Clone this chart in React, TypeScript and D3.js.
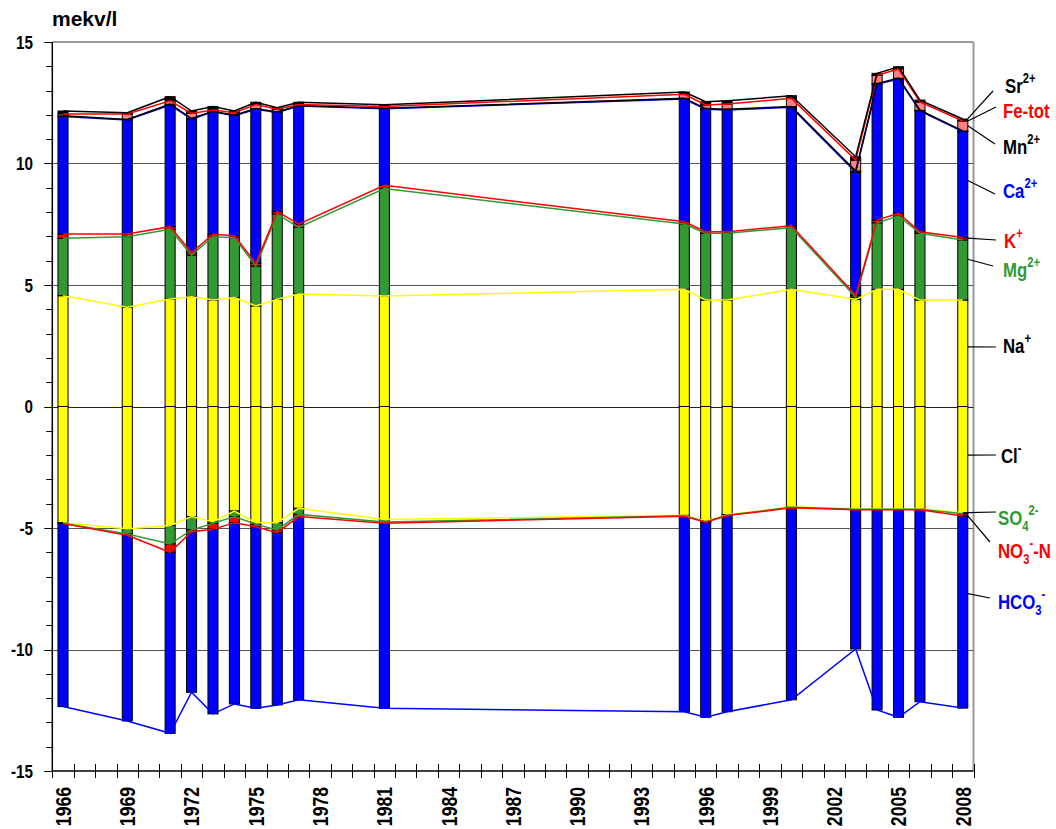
import React, { useEffect, useRef } from "react"
import * as d3 from "d3"

// sample years (one stacked bar each)
const years = [1966, 1969, 1971, 1972, 1973, 1974, 1975, 1976, 1977, 1981, 1995, 1996, 1997, 2000, 2003, 2004, 2005, 2006, 2008]

// cations, mekv/l
const na = [4.56, 4.08, 4.42, 4.52, 4.38, 4.48, 4.14, 4.41, 4.63, 4.55, 4.82, 4.38, 4.38, 4.82, 4.4, 4.82, 4.82, 4.38, 4.38]
const mg = [2.36, 2.91, 2.87, 1.71, 2.61, 2.47, 1.64, 3.51, 2.74, 4.42, 2.69, 2.75, 2.75, 2.54, 0.1, 2.74, 3.02, 2.75, 2.47]
const k = [0.18, 0.11, 0.11, 0.1, 0.1, 0.08, 0.11, 0.1, 0.13, 0.13, 0.09, 0.06, 0.06, 0.08, 0.08, 0.11, 0.11, 0.06, 0.1]
const ca = [4.83, 4.69, 5.01, 5.49, 5.04, 4.94, 6.34, 4.08, 4.87, 3.15, 5.05, 5.04, 5.01, 4.87, 5.06, 5.59, 5.53, 4.97, 4.36]
const mn = [0.03, 0.02, 0.03, 0.03, 0.02, 0.02, 0.03, 0.02, 0.02, 0.02, 0.03, 0.03, 0.03, 0.03, 0.05, 0.03, 0.03, 0.03, 0.03]
const fe = [0.08, 0.23, 0.14, 0.21, 0.05, 0.1, 0.17, 0.11, 0.04, 0.08, 0.17, 0.15, 0.22, 0.34, 0.45, 0.34, 0.38, 0.34, 0.41]
const sr = [0.12, 0.05, 0.17, 0.1, 0.14, 0.07, 0.09, 0.07, 0.09, 0.07, 0.09, 0.13, 0.13, 0.11, 0.14, 0.08, 0.09, 0.08, 0.08]

// anions, mekv/l (drawn below zero)
const cl = [4.78, 5.03, 4.9, 4.53, 4.74, 4.3, 4.78, 4.78, 4.19, 4.65, 4.48, 4.72, 4.45, 4.13, 4.21, 4.21, 4.21, 4.21, 4.37]
const so4 = [0.02, 0.22, 0.76, 0.55, 0.07, 0.23, 0.07, 0.3, 0.25, 0.1, 0.02, 0.02, 0.02, 0.02, 0.02, 0.02, 0.02, 0.02, 0.04]
const no3 = [0.02, 0.05, 0.34, 0.07, 0.24, 0.25, 0.1, 0.11, 0.09, 0.05, 0.02, 0.02, 0.02, 0.02, 0.02, 0.02, 0.02, 0.02, 0.1]
const hco3 = [7.53, 7.64, 7.45, 6.61, 7.6, 7.46, 7.47, 7.09, 7.54, 7.62, 8.04, 8.03, 8.07, 7.9, 5.73, 8.24, 8.54, 7.9, 7.9]

const yTicks = [-15, -10, -5, 0, 5, 10, 15]

const FONT = "'Liberation Sans', Arial, sans-serif"
const NARROW = 0.8 // no narrow font installed, squeeze Liberation Sans instead

const series = [
    { key: "Na", values: na, fill: "#ffff00", line: "#ffff00" },
    { key: "Mg", values: mg, fill: "#339933", line: "#339933" },
    { key: "K", values: k, fill: "#ff0000", line: "#ff0000" },
    { key: "Ca", values: ca, fill: "#0000ff", line: "#0000ff" },
    { key: "Mn", values: mn, fill: "#000000", line: "#000000" },
    { key: "Fe", values: fe, fill: "#ff8080", line: "#ff0000" },
    { key: "Sr", values: sr, fill: "#000000", line: "#000000" },
    { key: "Cl", values: cl.map((v) => -v), fill: "#ffff00", line: "#ffff00" },
    { key: "SO4", values: so4.map((v) => -v), fill: "#339933", line: "#339933" },
    { key: "NO3", values: no3.map((v) => -v), fill: "#ff0000", line: "#ff0000" },
    { key: "HCO3", values: hco3.map((v) => -v), fill: "#0000ff", line: "#0000ff" },
]

// right-hand labels: text pieces (0 normal, -1 sup, 1 sub), colour, text pos, leader start, value on last bar
const labels = [
    { parts: [["Sr", 0], ["2+", -1]], color: "#000", tx: 1005, ty: 93, lx: 993, ly: 91, v: 11.85 },
    { parts: [["Fe-tot", 0]], color: "#ff0000", tx: 1003, ty: 118, lx: 996, ly: 107, v: 11.75 },
    { parts: [["Mn", 0], ["2+", -1]], color: "#000", tx: 1003, ty: 154, lx: 995, ly: 144, v: 11.55 },
    { parts: [["Ca", 0], ["2+", -1]], color: "#0000ff", tx: 1003, ty: 198, lx: 995, ly: 194, v: 9.3 },
    { parts: [["K", 0], ["+", -1]], color: "#ff0000", tx: 1004, ty: 248, lx: 996, ly: 240, v: 6.93 },
    { parts: [["Mg", 0], ["2+", -1]], color: "#339933", tx: 1003, ty: 277, lx: 993, ly: 266, v: 6.06 },
    { parts: [["Na", 0], ["+", -1]], color: "#000", tx: 1003, ty: 353, lx: 996, ly: 347, v: 2.45 },
    { parts: [["Cl", 0], ["-", -1]], color: "#000", tx: 1001, ty: 463, lx: 996, ly: 455, v: -2.0 },
    { parts: [["SO", 0], ["4", 1], ["2-", -1]], color: "#339933", tx: 998, ty: 525, lx: 996, ly: 512, v: -4.37 },
    { parts: [["NO", 0], ["3", 1], ["-", -1], ["-N", 0]], color: "#ff0000", tx: 998, ty: 558, lx: 990, ly: 542, v: -4.5 },
    { parts: [["HCO", 0], ["3", 1], ["-", -1]], color: "#0000ff", tx: 998, ty: 609, lx: 990, ly: 598, v: -7.7 },
]

const App = () => {
    const ref = useRef(null)

    useEffect(() => {
        const svg = d3.select(ref.current)
        svg.selectAll("*").remove()

        const left = 52.3
        const right = 973.5
        const top = 42
        const bottom = 771

        const allYears = d3.range(1966, 2009)
        const x = d3.scaleBand().domain(allYears.map(String)).range([left, right]).padding(0)
        const y = d3.scaleLinear().domain([-15, 15]).range([bottom, top])
        const step = x.step()
        const barW = step * 0.47
        const cx = (yr) => x(String(yr)) + step / 2

        const rows = years.map((yr, i) => {
            const r = { year: yr }
            series.forEach((s) => (r[s.key] = s.values[i]))
            return r
        })
        const stacked = d3
            .stack()
            .keys(series.map((s) => s.key))
            .offset(d3.stackOffsetDiverging)(rows)

        // plot frame
        svg.append("line").attr("x1", left).attr("x2", right).attr("y1", y(15)).attr("y2", y(15))
            .attr("stroke", "#999").attr("stroke-width", 2)
        svg.append("line").attr("x1", right).attr("x2", right).attr("y1", top).attr("y2", bottom)
            .attr("stroke", "#999").attr("stroke-width", 2)

        // gridlines
        svg.append("g")
            .selectAll("line")
            .data(yTicks.filter((t) => Math.abs(t) < 15))
            .enter()
            .append("line")
            .attr("x1", left)
            .attr("x2", right)
            .attr("y1", (d) => Math.round(y(d)) + 0.5)
            .attr("y2", (d) => Math.round(y(d)) + 0.5)
            .attr("stroke", (d) => (d === 0 ? "#222" : "#555"))
            .attr("stroke-width", 1)

        // bars
        const barG = svg.append("g")
        stacked.forEach((layer, si) => {
            barG.append("g")
                .selectAll("rect")
                .data(layer)
                .enter()
                .append("rect")
                .attr("x", (d) => cx(d.data.year) - barW / 2)
                .attr("y", (d) => y(d[1]))
                .attr("width", barW)
                .attr("height", (d) => Math.max(0, y(d[0]) - y(d[1])))
                .attr("fill", series[si].fill)
                .attr("stroke", "#000")
                .attr("stroke-width", 1)
        })

        // connecting lines through the outer edge of each component
        const line = d3
            .line()
            .x((d) => cx(d.data.year))
            .y((d) => (d[1] > 0 ? y(d[1]) : y(d[0])))
        stacked.forEach((layer, si) => {
            svg.append("path")
                .datum(layer)
                .attr("d", line)
                .attr("fill", "none")
                .attr("stroke", series[si].line)
                .attr("stroke-width", 1.5)
        })

        // y axis
        svg.append("line").attr("x1", left).attr("x2", left).attr("y1", top).attr("y2", bottom)
            .attr("stroke", "#000").attr("stroke-width", 1.5)
        svg.append("g")
            .selectAll("line")
            .data(d3.range(-15, 16))
            .enter()
            .append("line")
            .attr("x1", (d) => (d % 5 === 0 ? left - 8 : left - 6))
            .attr("x2", (d) => left + (d % 5 === 0 ? 0 : 1))
            .attr("y1", (d) => Math.round(y(d)) + 0.5)
            .attr("y2", (d) => Math.round(y(d)) + 0.5)
            .attr("stroke", "#000")
        svg.append("g")
            .selectAll("text")
            .data(yTicks)
            .enter()
            .append("text")
            .attr("transform", (d) => `translate(33,${y(d)}) scale(${NARROW},1)`)
            .attr("dy", "0.36em")
            .attr("text-anchor", "end")
            .attr("font-family", FONT)
            .attr("font-weight", "bold")
            .attr("font-size", 19)
            .text((d) => d)

        svg.append("text")
            .attr("x", 52)
            .attr("y", 26)
            .attr("font-family", FONT)
            .attr("font-weight", "bold")
            .attr("font-size", 21)
            .text("mekv/l")

        // x axis
        svg.append("line").attr("x1", left).attr("x2", right).attr("y1", bottom).attr("y2", bottom)
            .attr("stroke", "#000").attr("stroke-width", 1.5)
        svg.append("g")
            .selectAll("line")
            .data(allYears.map((yr) => x(String(yr))).concat([right]))
            .enter()
            .append("line")
            .attr("x1", (d) => Math.round(d) + 0.5)
            .attr("x2", (d) => Math.round(d) + 0.5)
            .attr("y1", bottom - 7)
            .attr("y2", bottom + 7)
            .attr("stroke", "#000")
        svg.append("g")
            .selectAll("text")
            .data(allYears.filter((yr) => (yr - 1966) % 3 === 0))
            .enter()
            .append("text")
            .attr("transform", (d) => `translate(${cx(d)},${bottom + 16}) rotate(-90) scale(${NARROW},1)`)
            .attr("dy", "0.36em")
            .attr("text-anchor", "end")
            .attr("font-family", FONT)
            .attr("font-weight", "bold")
            .attr("font-size", 22)
            .text((d) => d)

        // right-hand labels
        const lastX = cx(years[years.length - 1]) + barW / 2
        labels.forEach((l) => {
            svg.append("line")
                .attr("x1", l.lx)
                .attr("y1", l.ly)
                .attr("x2", lastX)
                .attr("y2", y(l.v))
                .attr("stroke", "#000")
                .attr("stroke-width", 1.2)
            const t = svg.append("text")
                .attr("transform", `translate(${l.tx},${l.ty}) scale(${NARROW},1)`)
                .attr("font-family", FONT)
                .attr("font-weight", "bold")
                .attr("font-size", 21)
                .attr("fill", l.color)
            let level = 0
            l.parts.forEach(([str, pos]) => {
                const shift = pos === -1 ? -10 : pos === 1 ? 6 : 0
                t.append("tspan")
                    .attr("dy", shift - level)
                    .attr("font-size", pos === 0 ? 21 : 14)
                    .text(str)
                level = shift
            })
        })
    }, [])

    return (
        <svg
            ref={ref}
            width={1056}
            height={829}
            style={{ position: "absolute", left: 0, top: 0, display: "block", background: "#fff" }}
        />
    )
}

export default App
